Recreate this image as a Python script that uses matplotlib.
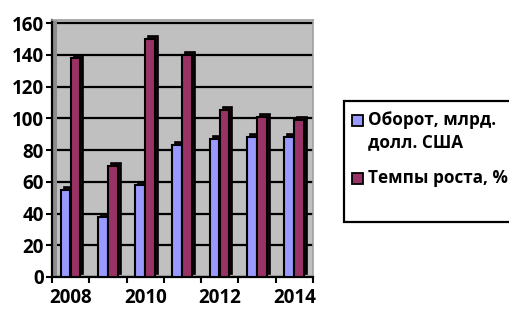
import matplotlib
matplotlib.use("Agg")
import matplotlib.pyplot as plt
import matplotlib.transforms as mtransforms
from matplotlib.patches import Rectangle
import numpy as np

years = ["2008", "2009", "2010", "2011", "2012", "2013", "2014"]
turnover = [55, 38, 58, 83, 87, 88, 88]
growth = [138, 70, 150, 140, 105, 101, 99]
series_names = ["Оборот, млрд.\nдолл. США", "Темпы роста, %"]
yticks = [0, 20, 40, 60, 80, 100, 120, 140, 160]

FONT = ['Open Sans', 'DejaVu Sans']
plt.rcParams['font.family'] = FONT
plt.rcParams['font.weight'] = 'bold'

W, H = 510, 309
fig = plt.figure(figsize=(W / 100, H / 100), dpi=100)
fig.patch.set_facecolor('white')

x0, x1, ytop, ybot = 52, 313, 20, 277
ax = fig.add_axes([x0 / W, 1 - ybot / H, (x1 - x0) / W, (ybot - ytop) / H])
ax.set_facecolor('#C0C0C0')

x = np.arange(len(years))
bw = 0.26
blue = '#9999FF'
maroon = '#993366'
shade = '#1a0510'

depth = mtransforms.offset_copy(ax.transData, fig=fig, x=3, y=3, units='dots')

pos1 = x - 0.14
pos2 = x + 0.13
# back faces (3D depth)
ax.bar(pos1, turnover, bw, color=shade, edgecolor='black', linewidth=1.2, transform=depth, zorder=3)
ax.bar(pos2, growth, bw, color=shade, edgecolor='black', linewidth=1.2, transform=depth, zorder=3)
b1 = ax.bar(pos1, turnover, bw, color=blue, edgecolor='black', linewidth=1.5, zorder=4)
b2 = ax.bar(pos2, growth, bw, color=maroon, edgecolor='black', linewidth=1.5, zorder=4)

ax.set_xlim(-0.5, len(years) - 0.5)
ax.set_ylim(0, 162)

FS = 13.5
ax.set_yticks(yticks)
ax.set_yticklabels([str(v) for v in yticks], fontsize=FS, fontweight='bold')
ax.yaxis.grid(True, color='black', linewidth=1.6, zorder=1)
ax.set_axisbelow(True)

ax.set_xticks(np.arange(-0.5, len(years)), minor=True)
ax.set_xticks(x[::2])
ax.set_xticklabels(years[::2], fontsize=FS, fontweight='bold')
ax.tick_params(axis='x', which='major', length=0, pad=8)
ax.tick_params(axis='x', which='minor', length=4, width=1.5, direction='out', color='black')
ax.tick_params(axis='y', length=4, width=1.5, direction='out', pad=2, color='black')

# left side wall
ax.add_patch(Rectangle((0, 0), 0.02, 1, transform=ax.transAxes, facecolor='#8C8C8C',
                       edgecolor='none', zorder=2))

for s in ['top', 'right']:
    ax.spines[s].set_color('#A0A0A0')
    ax.spines[s].set_linewidth(1.2)
ax.spines['left'].set_color('black')
ax.spines['left'].set_linewidth(1.6)
ax.spines['bottom'].set_color('black')
ax.spines['bottom'].set_linewidth(1.6)

# legend (Excel style box, running off the figure's right edge)
def fx(px):
    return px / W

def fy(py):
    return 1 - py / H

fig.patches.append(Rectangle((fx(344), fy(222)), fx(540) - fx(344), fy(101) - fy(222),
                             transform=fig.transFigure, facecolor='white',
                             edgecolor='black', linewidth=1.6, zorder=5))
entries = [(blue, series_names[0], 120), (maroon, series_names[1], 178)]
for col, name, yc in entries:
    fig.patches.append(Rectangle((fx(352), fy(yc + 5.5)), fx(363) - fx(352), fy(yc - 5.5) - fy(yc + 5.5),
                                 transform=fig.transFigure, facecolor=col,
                                 edgecolor='black', linewidth=1.3, zorder=6))
    fig.text(fx(368), fy(yc - 9), name, ha='left', va='top', fontsize=12.3,
             fontweight='bold', family=FONT, linespacing=1.3, zorder=7)

fig.savefig('out.png', dpi=100)
